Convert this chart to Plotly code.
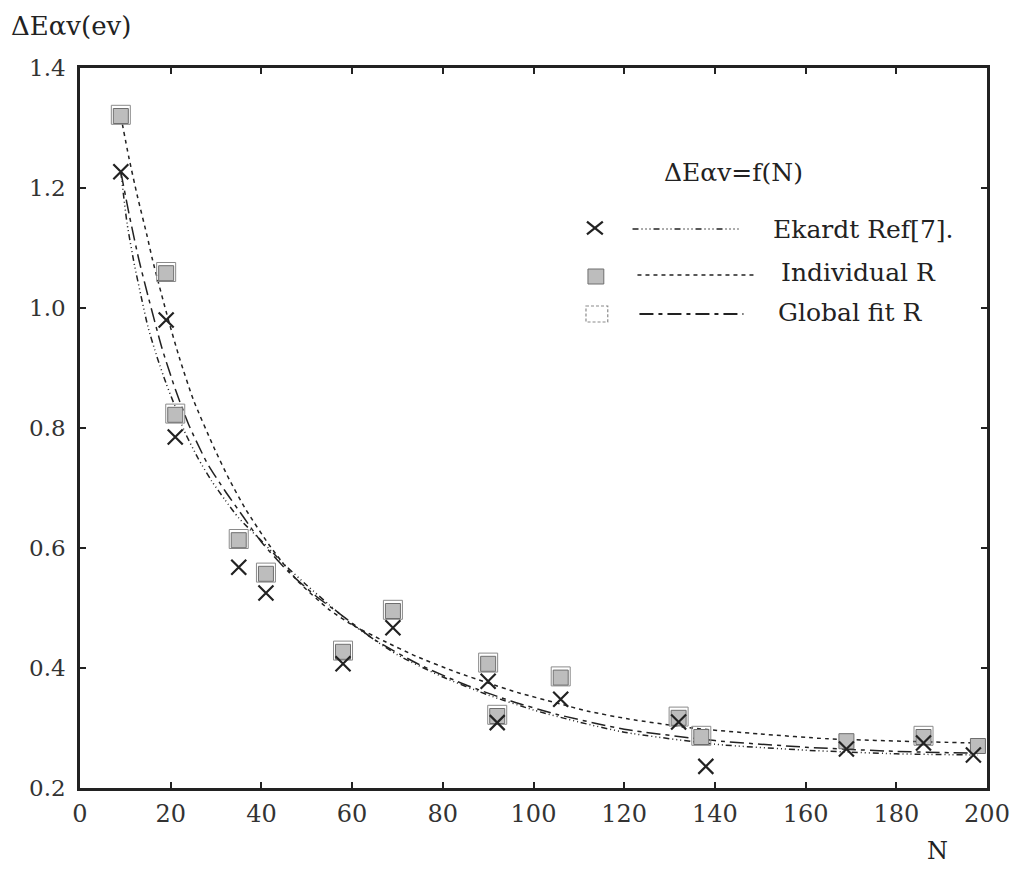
import plotly.graph_objects as go

# ---- data ----
# Ekardt Ref[7] points (crosses)
ek_n = [9, 19, 21, 35, 41, 58, 69, 90, 92, 106, 132, 138, 169, 186, 197]
ek_y = [1.227, 0.98, 0.785, 0.568, 0.525, 0.407, 0.467, 0.378, 0.309, 0.348, 0.310, 0.236, 0.265, 0.275, 0.255]

# Individual R points (shaded squares)
ir_n = [9, 19, 21, 35, 41, 58, 69, 90, 92, 106, 132, 137, 169, 186, 198]
ir_y = [1.32, 1.058, 0.822, 0.613, 0.557, 0.427, 0.495, 0.407, 0.320, 0.384, 0.317, 0.285, 0.278, 0.285, 0.270]

# Global fit R points (open squares, drawn around the shaded ones)
gf_n = [9, 19, 21, 35, 41, 58, 69, 90, 92, 106, 132, 137, 186]
gf_y = [1.322, 1.060, 0.824, 0.615, 0.559, 0.429, 0.497, 0.409, 0.322, 0.386, 0.319, 0.287, 0.287]

# fitted curves
ekc_n = [9, 10.4, 12, 13.6, 15, 17, 19, 21, 23, 26, 29, 32, 35, 40, 45, 50, 55, 60, 70, 80, 90, 100, 110, 120, 140, 160, 180, 198]
ekc_y = [1.227, 1.14, 1.072, 1.015, 0.968, 0.918, 0.874, 0.835, 0.795, 0.75, 0.712, 0.68, 0.65, 0.612, 0.573, 0.538, 0.505, 0.473, 0.422, 0.385, 0.355, 0.33, 0.31, 0.293, 0.273, 0.263, 0.257, 0.255]

irc_n = [9, 10.8, 12.7, 14.8, 16, 19.5, 22, 25, 29.5, 33, 36.5, 42, 48, 55, 60, 67, 74, 83, 90, 97, 105, 112, 121, 135, 150, 165, 186, 198]
irc_y = [1.32, 1.25, 1.185, 1.12, 1.08, 0.98, 0.915, 0.847, 0.768, 0.713, 0.665, 0.602, 0.545, 0.497, 0.472, 0.445, 0.42, 0.393, 0.375, 0.358, 0.342, 0.328, 0.315, 0.3, 0.29, 0.282, 0.277, 0.275]

gfc_n = [9, 11, 13, 15, 18, 21, 24, 28, 32, 36, 40, 46, 52, 57, 65, 75, 85, 95, 105, 120, 140, 160, 180, 198]
gfc_y = [1.227, 1.15, 1.08, 1.02, 0.935, 0.865, 0.805, 0.742, 0.695, 0.652, 0.61, 0.56, 0.52, 0.492, 0.447, 0.405, 0.372, 0.345, 0.323, 0.298, 0.279, 0.268, 0.261, 0.258]

x_ticks = [0, 20, 40, 60, 80, 100, 120, 140, 160, 180, 200]
y_ticks = [0.2, 0.4, 0.6, 0.8, 1.0, 1.2, 1.4]
y_tick_text = ["0.2", "0.4", "0.6", "0.8", "1.0", "1.2", "1.4"]

FONT = "DejaVu Serif"
INK = "#222222"
EK_DASH = "6px,3px,1px,3px,1px,3px,1px,3px"
IR_DASH = "4px,4px"
GF_DASH = "14px,5px,4px,5px"

fig = go.Figure()

fig.add_trace(go.Scatter(x=ekc_n, y=ekc_y, mode="lines", line=dict(color=INK, width=1.5, dash=EK_DASH, shape="spline", smoothing=0.6), showlegend=False))
fig.add_trace(go.Scatter(x=irc_n, y=irc_y, mode="lines", line=dict(color=INK, width=1.5, dash=IR_DASH, shape="spline", smoothing=0.6), showlegend=False))
fig.add_trace(go.Scatter(x=gfc_n, y=gfc_y, mode="lines", line=dict(color=INK, width=1.5, dash=GF_DASH, shape="spline", smoothing=0.6), showlegend=False))

fig.add_trace(go.Scatter(x=gf_n, y=gf_y, mode="markers", marker=dict(symbol="square-open", size=19, color="#8a8a8a", line=dict(width=1)), showlegend=False))
fig.add_trace(go.Scatter(x=ir_n, y=ir_y, mode="markers", marker=dict(symbol="square", size=15, color="#bdbdbd", line=dict(color="#6e6e6e", width=1)), showlegend=False))
fig.add_trace(go.Scatter(x=ek_n, y=ek_y, mode="markers", marker=dict(symbol="x-thin", size=15, color=INK, line=dict(color=INK, width=2.2)), showlegend=False))

L, R, T, B = 80, 26, 68, 84
W, H = 1022, 872
PW, PH = W - L - R, H - T - B


def px(xp):
    return (xp - L) / PW


def py(yp):
    return (H - B - yp) / PH


shapes = []
# legend: cross
cx, cy, s = 600, 228, 8
shapes.append(dict(type="line", xref="paper", yref="paper", x0=px(cx - s), y0=py(cy - s * 0.8), x1=px(cx + s), y1=py(cy + s * 0.8), line=dict(color=INK, width=2.2)))
shapes.append(dict(type="line", xref="paper", yref="paper", x0=px(cx - s), y0=py(cy + s * 0.8), x1=px(cx + s), y1=py(cy - s * 0.8), line=dict(color=INK, width=2.2)))
# legend: shaded square
shapes.append(dict(type="rect", xref="paper", yref="paper", x0=px(593), y0=py(269), x1=px(609), y1=py(284), fillcolor="#bdbdbd", line=dict(color="#6e6e6e", width=1)))
# legend: open square
shapes.append(dict(type="rect", xref="paper", yref="paper", x0=px(591), y0=py(306), x1=px(613), y1=py(322), line=dict(color="#8a8a8a", width=1.2, dash="3px,2px")))
# legend line samples
shapes.append(dict(type="line", xref="paper", yref="paper", x0=px(638), y0=py(229), x1=px(745), y1=py(229), line=dict(color=INK, width=1.5, dash=EK_DASH)))
shapes.append(dict(type="line", xref="paper", yref="paper", x0=px(643), y0=py(275), x1=px(762), y1=py(275), line=dict(color=INK, width=1.5, dash=IR_DASH)))
shapes.append(dict(type="line", xref="paper", yref="paper", x0=px(645), y0=py(314), x1=px(750), y1=py(314), line=dict(color=INK, width=1.8, dash=GF_DASH)))

annotations = [
    dict(text="ΔEαv(ev)", xref="paper", yref="paper", x=px(8), y=py(26), xanchor="left", yanchor="middle", showarrow=False, font=dict(family=FONT, size=26, color=INK)),
    dict(text="N", xref="paper", yref="paper", x=px(946), y=py(851), xanchor="center", yanchor="middle", showarrow=False, font=dict(family=FONT, size=24, color=INK)),
    dict(text="ΔEαv=f(N)", xref="paper", yref="paper", x=px(740), y=py(172), xanchor="center", yanchor="middle", showarrow=False, font=dict(family=FONT, size=25, color=INK)),
    dict(text="Ekardt Ref[7].", xref="paper", yref="paper", x=px(778), y=py(229), xanchor="left", yanchor="middle", showarrow=False, font=dict(family=FONT, size=25, color=INK)),
    dict(text="Individual R", xref="paper", yref="paper", x=px(786), y=py(272), xanchor="left", yanchor="middle", showarrow=False, font=dict(family=FONT, size=25, color=INK)),
    dict(text="Global fit R", xref="paper", yref="paper", x=px(783), y=py(312), xanchor="left", yanchor="middle", showarrow=False, font=dict(family=FONT, size=25, color=INK)),
]

fig.update_layout(
    width=W, height=H,
    margin=dict(l=L, r=R, t=T, b=B, pad=0),
    paper_bgcolor="white", plot_bgcolor="white",
    showlegend=False,
    shapes=shapes,
    annotations=annotations,
    xaxis=dict(range=[0, 200], tickvals=x_ticks, ticks="inside", ticklen=6, tickwidth=2, tickcolor=INK,
               showline=True, linecolor=INK, linewidth=2.5, mirror="ticks", showgrid=False, zeroline=False,
               tickfont=dict(family=FONT, size=24, color="#333333"), ticklabelstandoff=2),
    yaxis=dict(range=[0.2, 1.4], tickvals=y_ticks, ticktext=y_tick_text, ticks="inside", ticklen=6, tickwidth=2, tickcolor=INK,
               showline=True, linecolor=INK, linewidth=2.5, mirror="ticks", showgrid=False, zeroline=False,
               tickfont=dict(family=FONT, size=23, color="#333333"), ticklabelstandoff=7),
)

fig.write_html("out.html")
